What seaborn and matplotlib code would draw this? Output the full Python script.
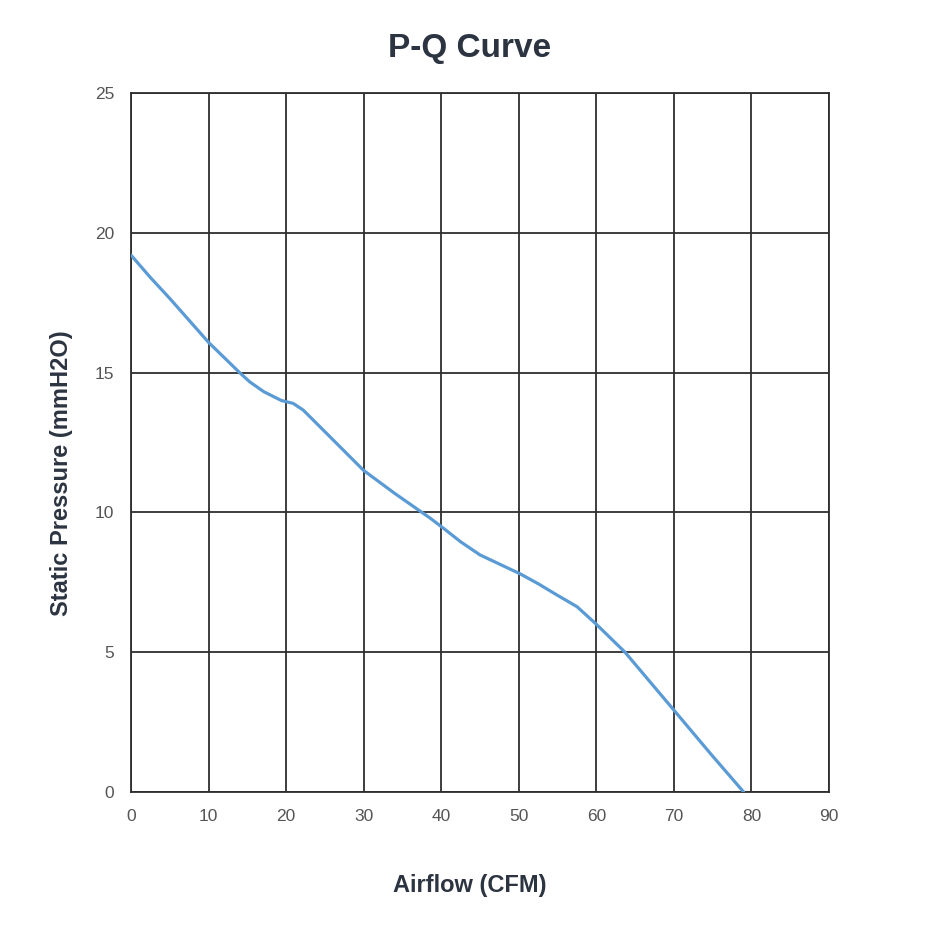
import pandas as pd
import matplotlib
matplotlib.use('Agg')
import matplotlib.pyplot as plt
import seaborn as sns

# Data
airflow = [0, 2.5, 5, 10, 14, 15.3, 17.1, 19.4, 20.9, 22.2, 23.9, 26.5, 30, 34,
           38.6, 40.3, 42.5, 45, 50.2, 52.5, 54.9, 57.5, 60, 63.7, 70, 74.7, 79]
pressure = [19.2, 18.4, 17.65, 16.08, 15.0, 14.67, 14.32, 14.0, 13.9, 13.66, 13.19, 12.47, 11.5, 10.68,
            9.79, 9.43, 8.95, 8.48, 7.8, 7.45, 7.05, 6.63, 6.0, 5.0, 2.93, 1.38, 0]
x_ticks = list(range(0, 91, 10))
y_ticks = list(range(0, 26, 5))

df = pd.DataFrame({'Airflow': airflow, 'Pressure': pressure})

sns.set_style('white')
plt.rcParams['font.family'] = ['Liberation Sans', 'DejaVu Sans']

fig = plt.figure(figsize=(9.4, 9.4), dpi=100)
ax = fig.add_axes([0.1394, 0.1574, 0.8819 - 0.1394, 0.9011 - 0.1574])

sns.lineplot(data=df, x='Airflow', y='Pressure', ax=ax, color='#5b9bd5',
             linewidth=2.3, zorder=3)
ax.lines[0].set_solid_joinstyle('round')

ax.set_xlim(0, 90)
ax.set_ylim(0, 25)
ax.set_xticks(x_ticks)
ax.set_yticks(y_ticks)
ax.grid(True, color='#2e2e2e', linewidth=1.3)
ax.set_axisbelow(True)
for side in ['left', 'bottom', 'top', 'right']:
    ax.spines[side].set_color('#2e2e2e')
    ax.spines[side].set_linewidth(1.3)
ax.tick_params(axis='both', length=0, labelsize=12.5, colors='#555555', pad=12)

ax.set_xlabel('Airflow (CFM)', fontsize=17, fontweight='bold', color='#2b3440', labelpad=36)
ax.set_ylabel('Static Pressure (mmH2O)', fontsize=17, fontweight='bold', color='#2b3440', labelpad=16)
# labels are centred on the figure rather than the plot area
ax.xaxis.label.set_x(0.4857)
ax.yaxis.label.set_y(0.4564)
fig.text(0.5, 1 - 49 / 940, 'P-Q Curve', ha='center', va='center',
         fontsize=24, fontweight='bold', color='#2b3440')

plt.savefig('out.png', dpi=100)
plt.close('all')
